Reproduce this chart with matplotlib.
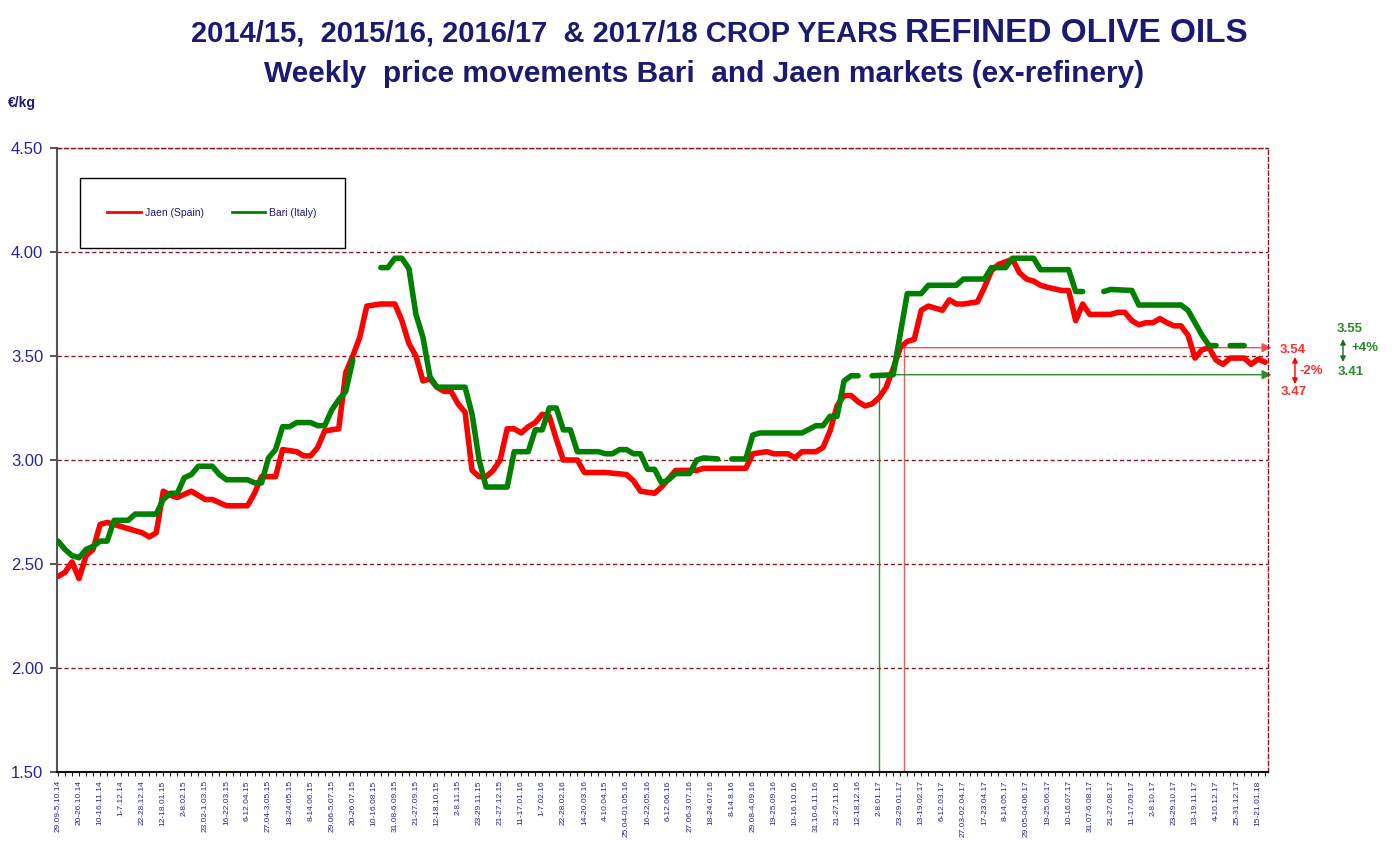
import numpy as np
import matplotlib

matplotlib.use("Agg")
import matplotlib.pyplot as plt
from matplotlib.lines import Line2D
from matplotlib.patches import Rectangle

plt.rcParams["font.family"] = ["Liberation Sans", "DejaVu Sans"]

NAVY = "#1a1a72"
TICK_BLUE = "#2424a0"
RED = "#ff0000"
GREEN = "#008000"
GRID = "#8b1a1a"
W, H = 1395, 841

# weekly category labels (one every 3 weeks)
week_labels = [
    "29.09-5.10.14", "20-26.10.14", "10-16.11.14", "1-7.12.14", "22-28.12.14",
    "12-18.01.15", "2-8.02.15", "23.02-1.03.15", "16-22.03.15", "6-12.04.15",
    "27.04-3.05.15", "18-24.05.15", "8-14.06.15", "29.06-5.07.15", "20-26.07.15",
    "10-16.08.15", "31.08-6.09.15", "21-27.09.15", "12-18.10.15", "2-8.11.15",
    "23-29.11.15", "21-27.12.15", "11-17.01.16", "1-7.02.16", "22-28.02.16",
    "14-20.03.16", "4-10.04.15", "25.04-01.05.16", "16-22.05.16", "6-12.06.16",
    "27.06-3.07.16", "18-24.07.16", "8-14.8.16", "29.08-4.09.16", "19-25.09.16",
    "10-16.10.16", "31.10-6.11.16", "21-27.11.16", "12-18.12.16", "2-8.01.17",
    "23-29.01.17", "13-19.02.17", "6-12.03.17", "27.03-02.04.17", "17-23.04.17",
    "8-14.05.17", "29.05-04.06.17", "19-25.06.17", "10-16.07.17", "31.07-6.08.17",
    "21-27.08.17", "11-17.09.17", "2-8.10.17", "23-29.10.17", "13-19.11.17",
    "4-10.12.17", "25-31.12.17", "15-21.01.18",
]

# Jaen (Spain) - week index / price €/kg
jaen_weeks = [
    0, 1, 2, 3, 4, 5, 6, 7, 8, 10, 12, 13, 14, 15, 16, 17, 19, 21, 22, 24,
    27, 28, 29, 31, 32, 34, 35, 36, 37, 38, 40, 41, 42, 43, 44, 46, 48, 49, 50, 51,
    52, 53, 54, 55, 56, 57, 58, 59, 60, 61, 62, 63, 64, 65, 66, 67, 68, 69, 70, 71,
    72, 74, 75, 78, 81, 82, 83, 85, 86, 87, 88, 91, 92, 98, 99, 101, 102, 104, 105, 106,
    108, 109, 110, 111, 112, 113, 114, 115, 116, 117, 118, 119, 120, 121, 122, 123, 124, 125, 126, 127,
    128, 129, 131, 132, 133, 134, 136, 137, 138, 139, 140, 141, 143, 144, 145, 146, 147, 148, 149, 150,
    151, 152, 153, 154, 155, 156, 157, 158, 159, 160, 161, 162, 163, 164, 165, 166, 167, 169, 170, 171,
    172,
]
jaen_prices = [
    2.44, 2.46, 2.51, 2.43, 2.54, 2.57, 2.69, 2.70, 2.69, 2.67, 2.65, 2.63, 2.65, 2.85, 2.83, 2.82, 2.85, 2.81, 2.81, 2.78,
    2.78, 2.84, 2.92, 2.92, 3.05, 3.04, 3.02, 3.02, 3.06, 3.14, 3.15, 3.42, 3.50, 3.59, 3.74, 3.75, 3.75, 3.67, 3.56, 3.50,
    3.38, 3.39, 3.35, 3.33, 3.33, 3.27, 3.23, 2.95, 2.92, 2.92, 2.95, 3.00, 3.15, 3.15, 3.13, 3.16, 3.18, 3.22, 3.21, 3.10,
    3.00, 3.00, 2.94, 2.94, 2.93, 2.90, 2.85, 2.84, 2.87, 2.91, 2.95, 2.95, 2.96, 2.96, 3.03, 3.04, 3.03, 3.03, 3.01, 3.04,
    3.04, 3.06, 3.14, 3.26, 3.31, 3.31, 3.28, 3.26, 3.27, 3.30, 3.35, 3.44, 3.54, 3.57, 3.58, 3.72, 3.74, 3.73, 3.72, 3.77,
    3.75, 3.75, 3.76, 3.83, 3.91, 3.94, 3.965, 3.90, 3.87, 3.86, 3.84, 3.83, 3.815, 3.815, 3.67, 3.75, 3.70, 3.70, 3.70, 3.70,
    3.71, 3.71, 3.67, 3.65, 3.66, 3.66, 3.68, 3.66, 3.645, 3.645, 3.60, 3.49, 3.53, 3.54, 3.48, 3.46, 3.49, 3.49, 3.46, 3.485,
    3.47,
]

# Bari (Italy) - nan = no quotation
bari_weeks = [
    0, 1, 2, 3, 4, 5, 6, 7, 8, 10, 11, 14, 15, 16, 17, 18, 19, 20, 22, 23,
    24, 27, 28, 29, 30, 31, 32, 33, 34, 36, 37, 38, 39, 40, 41, 42, 44, 46, 47, 48,
    49, 50, 51, 52, 53, 54, 58, 59, 60, 61, 64, 65, 67, 68, 69, 70, 71, 72, 73, 74,
    77, 78, 79, 80, 81, 82, 83, 84, 85, 86, 87, 88, 90, 91, 92, 94, 95, 96, 98, 99,
    100, 106, 108, 109, 110, 111, 112, 113, 114, 115, 116, 119, 121, 123, 124, 128, 129, 132, 133, 135,
    136, 139, 140, 144, 145, 146, 147.5, 149, 150, 153, 154, 160, 161, 162, 163, 164, 165, 166, 167, 169,
]
bari_prices = [
    2.61, 2.57, 2.54, 2.53, 2.57, 2.585, 2.61, 2.61, 2.71, 2.71, 2.74, 2.74, 2.81, 2.84, 2.84, 2.915, 2.93, 2.97, 2.97, 2.93,
    2.905, 2.905, 2.89, 2.89, 3.01, 3.05, 3.16, 3.16, 3.18, 3.18, 3.165, 3.165, 3.24, 3.29, 3.33, 3.48, np.nan, 3.925, 3.925, 3.97,
    3.97, 3.92, 3.70, 3.59, 3.40, 3.35, 3.35, 3.22, 3.00, 2.87, 2.87, 3.04, 3.04, 3.145, 3.145, 3.25, 3.25, 3.145, 3.145, 3.04,
    3.04, 3.03, 3.03, 3.05, 3.05, 3.03, 3.03, 2.955, 2.955, 2.89, 2.905, 2.935, 2.935, 3.00, 3.01, 3.005, np.nan, 3.005, 3.005, 3.12,
    3.13, 3.13, 3.165, 3.165, 3.21, 3.21, 3.38, 3.405, 3.405, np.nan, 3.405, 3.41, 3.80, 3.80, 3.84, 3.84, 3.87, 3.87, 3.925, 3.925,
    3.97, 3.97, 3.915, 3.915, 3.81, 3.81, np.nan, 3.81, 3.82, 3.815, 3.745, 3.745, 3.72, 3.66, 3.60, 3.55, 3.55, np.nan, 3.55, 3.55,
]

# reference week and levels for the comparison arrows
bari_ref_week, bari_ref, bari_last = 117, 3.41, 3.55
jaen_ref_week, jaen_ref, jaen_last = 120.6, 3.54, 3.47

fig = plt.figure(figsize=(W / 100, H / 100), dpi=100)
ax = fig.add_axes([57 / W, 1 - 772 / H, (1268 - 57) / W, (772 - 148) / H])

ax.plot(jaen_weeks, jaen_prices, color=RED, lw=4, solid_capstyle="round",
        solid_joinstyle="round", zorder=3)
ax.plot(bari_weeks, bari_prices, color=GREEN, lw=4, solid_capstyle="round",
        solid_joinstyle="round", zorder=4)

# reference lines
ax.plot([bari_ref_week, bari_ref_week], [1.5, bari_ref], color="#2e8b2e", lw=1, zorder=2)
ax.plot([jaen_ref_week, jaen_ref_week], [1.5, jaen_ref], color="#e06060", lw=1, zorder=2)
ax.annotate("", xy=(172.9, bari_ref), xytext=(bari_ref_week, bari_ref),
            arrowprops=dict(arrowstyle="-|>", color="#2e8b2e", lw=1, mutation_scale=14,
                            shrinkA=0, shrinkB=0),
            annotation_clip=False, zorder=2)
ax.annotate("", xy=(172.9, jaen_ref), xytext=(jaen_ref_week, jaen_ref),
            arrowprops=dict(arrowstyle="-|>", color="#f05050", lw=1, mutation_scale=14,
                            shrinkA=0, shrinkB=0),
            annotation_clip=False, zorder=2)

ax.set_xlim(-0.14, 172.4)
ax.set_ylim(1.5, 4.5)
ax.set_yticks(np.arange(1.5, 4.51, 0.5))
ax.set_yticklabels([f"{v:.2f}" for v in np.arange(1.5, 4.51, 0.5)])
ax.set_xticks(np.arange(len(week_labels)) * 3)
ax.set_xticklabels(week_labels, rotation=90, va="top", ha="center")
ax.set_xticks(np.arange(0, 173), minor=True)
ax.tick_params(axis="y", labelsize=12, labelcolor=TICK_BLUE, length=5, width=1.2,
               color="#333333", pad=5)
ax.tick_params(axis="x", which="both", labelsize=6, labelcolor=TICK_BLUE, length=3,
               width=0.8, color="#222222", pad=3)

ax.grid(axis="y", color=GRID, linestyle=(0, (3, 2)), linewidth=1)
ax.set_axisbelow(True)
for side in ("top", "right"):
    ax.spines[side].set_color(GRID)
    ax.spines[side].set_linestyle((0, (3, 2)))
    ax.spines[side].set_linewidth(1)
ax.spines["left"].set_color("#555555")
ax.spines["left"].set_linewidth(1.5)
ax.spines["bottom"].set_color("#111111")
ax.spines["bottom"].set_linewidth(1.5)

# legend box
fig.add_artist(Rectangle((80 / W, 1 - 248 / H), 265 / W, 70 / H, transform=fig.transFigure,
                         fill=False, edgecolor="black", lw=1))
handles = [Line2D([], [], color=RED, lw=2), Line2D([], [], color=GREEN, lw=2)]
ax.legend(handles, ["Jaen (Spain)", "Bari (Italy)"], loc="center",
          bbox_to_anchor=(212 / W, 1 - 213 / H), bbox_transform=fig.transFigure,
          ncol=2, frameon=False, fontsize=7.5, handlelength=3.2, columnspacing=2.7,
          handletextpad=0.4, labelcolor=NAVY)

# titles
fig.text(897 / W, 1 - 42 / H, "2014/15,  2015/16, 2016/17  & 2017/18 CROP YEARS",
         ha="right", va="baseline", fontsize=21, fontweight="bold", color=NAVY)
fig.text(905 / W, 1 - 42 / H, "REFINED OLIVE OILS", ha="left", va="baseline",
         fontsize=24, fontweight="bold", color=NAVY)
fig.text(704 / W, 1 - 82 / H, "Weekly  price movements Bari  and Jaen markets (ex-refinery)",
         ha="center", va="baseline", fontsize=21.5, fontweight="bold", color=NAVY)
fig.text(8 / W, 1 - 103 / H, "€/kg", ha="left", va="center", fontsize=10,
         fontweight="bold", color=NAVY)

# right-hand change annotations
red_txt, green_txt = "#ff3030", "#2a8a2a"
fig.text(1293 / W, 1 - 350 / H, f"{jaen_ref:.2f}", ha="center", va="center",
         fontsize=9.5, fontweight="bold", color=red_txt)
fig.text(1294 / W, 1 - 392 / H, f"{jaen_last:.2f}", ha="center", va="center",
         fontsize=9.5, fontweight="bold", color=red_txt)
fig.text(1300 / W, 1 - 371 / H, "-2%", ha="left", va="center",
         fontsize=9.5, fontweight="bold", color=red_txt)
fig.text(1350 / W, 1 - 329 / H, f"{bari_last:.2f}", ha="center", va="center",
         fontsize=9.5, fontweight="bold", color=green_txt)
fig.text(1351 / W, 1 - 372 / H, f"{bari_ref:.2f}", ha="center", va="center",
         fontsize=9.5, fontweight="bold", color=green_txt)
fig.text(1352 / W, 1 - 348 / H, "+4%", ha="left", va="center",
         fontsize=9.5, fontweight="bold", color=green_txt)
ax.annotate("", xy=(1295, H - 384), xytext=(1295, H - 357), xycoords="figure pixels",
            textcoords="figure pixels", annotation_clip=False,
            arrowprops=dict(arrowstyle="<|-|>", color=RED, lw=1, mutation_scale=8,
                            shrinkA=0, shrinkB=0))
ax.annotate("", xy=(1343, H - 362), xytext=(1343, H - 339), xycoords="figure pixels",
            textcoords="figure pixels", annotation_clip=False,
            arrowprops=dict(arrowstyle="<|-|>", color="#1f6f1f", lw=1, mutation_scale=8,
                            shrinkA=0, shrinkB=0))

fig.savefig("out.png", dpi=100, facecolor="white")
